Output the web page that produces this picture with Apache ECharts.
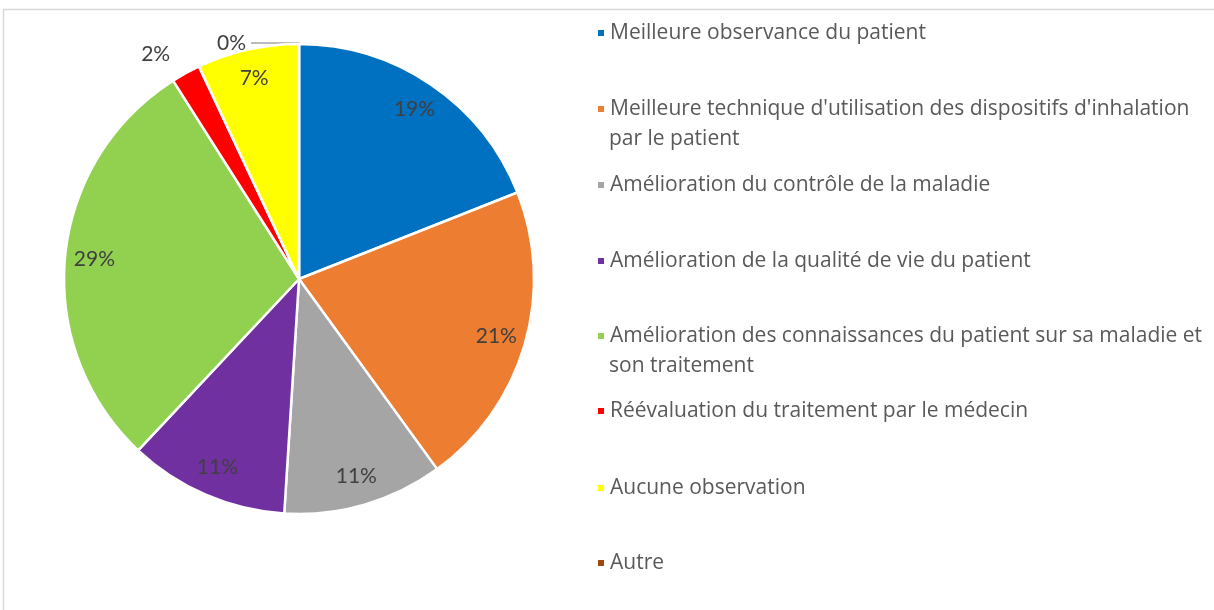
<!DOCTYPE html>
<html>
<head>
<meta charset="utf-8">
<script src="https://cdn.jsdelivr.net/npm/echarts@6/dist/echarts.min.js"></script>
<style>
html, body { margin: 0; padding: 0; background: #fff; }
#chart { width: 1214px; height: 610px; }
</style>
</head>
<body>
<div id="chart"></div>
<script>
// categories / values (percent)
const categories = [
    "Meilleure observance du patient",
    "Meilleure technique d'utilisation des dispositifs d'inhalation\npar le patient",
    "Amélioration du contrôle de la maladie",
    "Amélioration de la qualité de vie du patient",
    "Amélioration des connaissances du patient sur sa maladie et\nson traitement",
    "Réévaluation du traitement par le médecin",
    "Aucune observation",
    "Autre"
];
const values = [19, 21, 11, 11, 29, 2, 7, 0];
const colors = ["#0070C0", "#ED7D31", "#A5A5A5", "#7030A0", "#92D050", "#FF0000", "#FFFF00", "#9E480E"];
const legendTops = [32, 108, 184, 260, 335, 410, 487, 562];

const chart = echarts.init(document.getElementById("chart"));

let pieData = categories.map((c, i) => ({
    name: c,
    value: values[i],
    itemStyle: { color: colors[i] }
}));

// transparent ring used only to carry the labels near the rim
let labelData = categories.map((c, i) => {
    let d = {
        name: c,
        value: values[i],
        itemStyle: { color: "rgba(0,0,0,0)", borderWidth: 0 }
    };
    if (values[i] === 2) {
        d.label = { position: "outside" };
        d.labelLine = { show: false, length: 22, length2: 0 };
    }
    if (values[i] === 0) {
        d.label = { position: "outside" };
        d.labelLine = { show: true, length: 1, length2: 48, lineStyle: { color: "#A6A6A6", width: 1.5 } };
    }
    return d;
});

// one legend per text line so the marker sits on the first line
let legends = [];
categories.forEach((c, i) => {
    c.split("\n").forEach((line, j) => {
        legends.push({
            data: [c],
            formatter: () => line,
            left: 596,
            top: legendTops[i] + j * 30 - 14,
            padding: 0,
            icon: j === 0 ? "rect" : "none",
            itemWidth: 8,
            itemHeight: 8,
            selectedMode: false,
            textStyle: {
                fontFamily: "Open Sans",
                fontSize: 21,
                color: "#595959",
                lineHeight: 30
            }
        });
    });
});

chart.setOption({
    animation: false,
    backgroundColor: "#fff",
    legend: legends,
    graphic: [{
        type: "rect",
        shape: { x: 3.5, y: 9.5, width: 1300, height: 700 },
        style: { fill: "none", stroke: "#D9D9D9", lineWidth: 1.5 },
        silent: true
    }],
    series: [
        {
            type: "pie",
            center: [299, 279],
            radius: [0, 235],
            startAngle: 90,
            clockwise: true,
            data: pieData,
            itemStyle: { borderColor: "#fff", borderWidth: 2.5 },
            label: { show: false },
            labelLine: { show: false },
            emphasis: { disabled: true }
        },
        {
            type: "pie",
            center: [299, 279],
            radius: [170, 235],
            startAngle: 90,
            clockwise: true,
            silent: true,
            avoidLabelOverlap: false,
            data: labelData,
            label: {
                show: true,
                position: "inside",
                formatter: p => p.value + "%",
                fontFamily: "Lato",
                fontSize: 21,
                color: "#404040"
            },
            labelLine: { show: false },
            emphasis: { disabled: true }
        }
    ]
});
</script>
</body>
</html>
